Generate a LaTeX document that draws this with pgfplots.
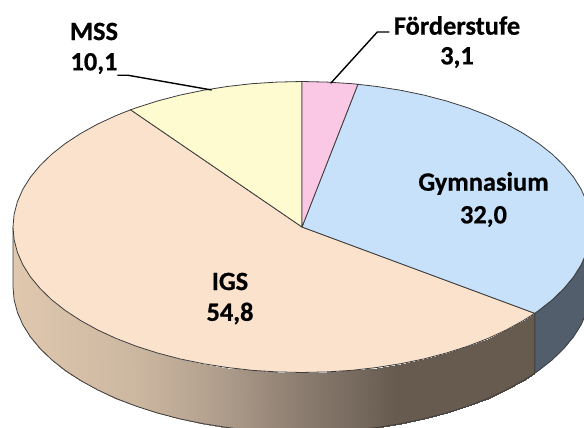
\documentclass[border=0pt]{standalone}
\usepackage{fontspec}
\setmainfont[BoldFeatures={FakeBold=0.6}]{Carlito}
\usepackage{pgfplots}
\usepackage{pgfplotstable}
\pgfplotsset{compat=1.18}
\definecolor{cpeach}{RGB}{251,226,204}
\definecolor{cblue}{RGB}{200,225,250}
\definecolor{cyellow}{RGB}{253,251,207}
\definecolor{cpink}{RGB}{250,200,228}
\definecolor{cside}{RGB}{82,94,108}
\definecolor{cedge}{RGB}{60,60,60}
\pgfplotstableread{
x y
534.7 313.3
523.4 320.5
506.4 329.9
487.8 338.5
467.8 346.2
446.5 353.0
424.1 358.9
400.8 363.7
376.8 367.5
352.2 370.3
327.2 371.9
302 372.5
276.8 371.9
251.8 370.3
227.2 367.5
203.2 363.7
179.9 358.9
157.5 353.0
136.2 346.2
116.2 338.5
97.6 329.9
80.6 320.5
65.3 310.5
51.7 299.8
40.1 288.5
30.4 276.8
22.8 264.7
17.4 252.3
14.1 239.7
13 227
534.7 373.3
523.4 380.5
506.4 389.9
487.8 398.5
467.8 406.2
446.5 413.0
424.1 418.9
400.8 423.7
376.8 427.5
352.2 430.3
327.2 431.9
302 432.5
276.8 431.9
251.8 430.3
227.2 427.5
203.2 423.7
179.9 418.9
157.5 413.0
136.2 406.2
116.2 398.5
97.6 389.9
80.6 380.5
65.3 370.5
51.7 359.8
40.1 348.5
30.4 336.8
22.8 324.7
17.4 312.3
14.1 299.7
13 287
}\sidetable
\begin{document}
\begin{tikzpicture}
\begin{axis}[
  width=584pt,height=428pt,scale only axis,
  xmin=0,xmax=584,ymin=0,ymax=428,y dir=reverse,
  axis lines=none,clip=true,
  colormap={side}{rgb255(0)=(226,202,176); rgb255(140)=(203,182,160); rgb255(220)=(176,158,140); rgb255(292)=(143,128,115); rgb255(395)=(103,91,80); rgb255(584)=(103,91,80)},
  point meta min=0,point meta max=584,
]
% side of the blue slice
\addplot[fill=cside,draw=cedge,line width=0.8pt] coordinates {
(591,227)(589.9,239.7)(586.6,252.3)(581.2,264.7)(573.6,276.8)(563.9,288.5)(552.3,299.8)(538.7,310.5)(534.7,313.3)
(534.7,373.3)(538.7,370.5)(552.3,359.8)(563.9,348.5)(573.6,336.8)(581.2,324.7)(586.6,312.3)(589.9,299.7)(591,287)(591,227)};
% side of the IGS slice
\addplot[surf,shader=interp,mesh/rows=2,mesh/ordering=x varies,point meta=x] table[x=x,y=y] {\sidetable};
% its outline
\addplot[draw=cedge,line width=0.8pt] coordinates {
(534.7,313.3)(534.7,373.3)(523.4,380.5)(506.4,389.9)(487.8,398.5)(467.8,406.2)(446.5,413.0)(424.1,418.9)(400.8,423.7)(376.8,427.5)(352.2,430.3)(327.2,431.9)(302,432.5)(276.8,431.9)(251.8,430.3)(227.2,427.5)(203.2,423.7)(179.9,418.9)(157.5,413.0)(136.2,406.2)(116.2,398.5)(97.6,389.9)(80.6,380.5)(65.3,370.5)(51.7,359.8)(40.1,348.5)(30.4,336.8)(22.8,324.7)(17.4,312.3)(14.1,299.7)(13,287)(13,227)};
% IGS 54.8
\addplot[fill=cpeach,draw=cedge,line width=0.8pt] coordinates {
(302,227)(534.7,313.3)(523.4,320.5)(506.4,329.9)(487.8,338.5)(467.8,346.2)(446.5,353.0)(424.1,358.9)(400.8,363.7)(376.8,367.5)(352.2,370.3)(327.2,371.9)(302,372.5)(276.8,371.9)(251.8,370.3)(227.2,367.5)(203.2,363.7)(179.9,358.9)(157.5,353.0)(136.2,346.2)(116.2,338.5)(97.6,329.9)(80.6,320.5)(65.3,310.5)(51.7,299.8)(40.1,288.5)(30.4,276.8)(22.8,264.7)(17.4,252.3)(14.1,239.7)(13,227)(14.1,214.3)(17.4,201.7)(22.8,189.3)(30.4,177.2)(40.1,165.5)(51.7,154.2)(65.3,143.5)(80.6,133.5)(97.6,124.1)(116.2,115.5)(130.6,109.8)(302,227)};
% Gymnasium 32.0
\addplot[fill=cblue,draw=cedge,line width=0.8pt] coordinates {
(302,227)(357.9,84.3)(376.8,86.5)(400.8,90.3)(424.1,95.1)(446.5,101.0)(467.8,107.8)(487.8,115.5)(506.4,124.1)(523.4,133.5)(538.7,143.5)(552.3,154.2)(563.9,165.5)(573.6,177.2)(581.2,189.3)(586.6,201.7)(589.9,214.3)(591,227)(589.9,239.7)(586.6,252.3)(581.2,264.7)(573.6,276.8)(563.9,288.5)(552.3,299.8)(538.7,310.5)(534.7,313.3)(302,227)};
% MSS 10.1
\addplot[fill=cyellow,draw=cedge,line width=0.8pt] coordinates {
(302,227)(130.6,109.8)(136.2,107.8)(157.5,101.0)(179.9,95.1)(203.2,90.3)(227.2,86.5)(251.8,83.7)(276.8,82.1)(302,81.5)(302,227)};
% Foerderstufe 3.1
\addplot[fill=cpink,draw=cedge,line width=0.8pt] coordinates {
(302,227)(302,81.5)(327.2,82.1)(352.2,83.7)(357.9,84.3)(302,227)};
% leaders
\addplot[draw=black,line width=1.4pt] coordinates {(117.3,75.3)(128.3,75.3)(211.7,90)};
\addplot[draw=black,line width=1.4pt] coordinates {(389.3,32)(377.3,32)(330.7,83.3)};
% labels
\begin{scope}[every node/.style={font=\fontsize{26.4}{30}\selectfont\bfseries,text=black,inner sep=0pt,anchor=center}]
\node at (axis cs:94,31.5) {MSS};
\node at (axis cs:94,63.5) {10,1};
\node at (axis cs:457,25.5) {Förderstufe};
\node at (axis cs:457,57.5) {3,1};
\node at (axis cs:483.5,183.5) {Gymnasium};
\node at (axis cs:483.5,216.5) {32,0};
\node at (axis cs:230,281.5) {IGS};
\node at (axis cs:230,313.5) {54,8};
\end{scope}
\end{axis}
\pgfresetboundingbox
\path[use as bounding box] (0,0) rectangle (584pt,428pt);
\end{tikzpicture}
\end{document}
